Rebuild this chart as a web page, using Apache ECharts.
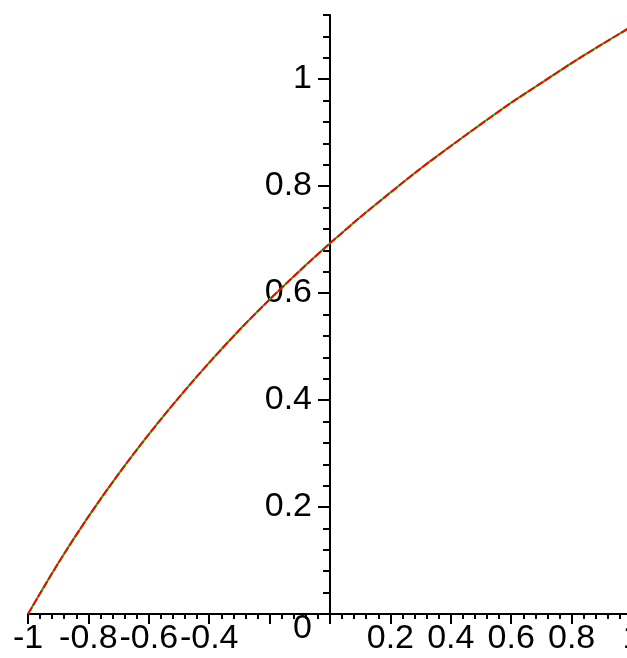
<!DOCTYPE html>
<html>
<head>
<meta charset="utf-8">
<script src="https://cdn.jsdelivr.net/npm/echarts@6/dist/echarts.min.js"></script>
<style>
  html, body { margin: 0; padding: 0; background: #fff; }
  #chart { width: 627px; height: 658px; }
</style>
</head>
<body>
<div id="chart"></div>
<script>
// values
const xValues = [-1, -0.9, -0.8, -0.7, -0.6, -0.5, -0.4, -0.3, -0.2, -0.1, 0,
  0.1, 0.2, 0.3, 0.4, 0.5, 0.6, 0.7, 0.8, 0.9, 1];
const greenValues = [0, 0.095, 0.182, 0.262, 0.336, 0.405, 0.470, 0.531, 0.588, 0.642, 0.693,
  0.742, 0.788, 0.833, 0.875, 0.916, 0.956, 0.993, 1.030, 1.065, 1.099];
const redValues = [0, 0.095, 0.182, 0.262, 0.336, 0.405, 0.470, 0.531, 0.588, 0.642, 0.693,
  0.742, 0.788, 0.833, 0.875, 0.916, 0.956, 0.993, 1.030, 1.065, 1.099];
const hiddenXLabels = [-0.2, 0];

const font = 'Liberation Sans, Arial, sans-serif';
const ink = '#000';

const chart = echarts.init(document.getElementById('chart'));

function fmt(v) {
  return String(Math.round(v * 10) / 10);
}

const option = {
  backgroundColor: '#fff',
  animation: false,
  grid: [
    { left: 28, right: -5, top: 15, bottom: 44, containLabel: false, outerBoundsMode: 'none' },
    { left: 28, right: -5, top: 79, bottom: 44, containLabel: false, outerBoundsMode: 'none' },
  ],
  xAxis: [
    {
      // major x ticks + labels
      type: 'value', gridIndex: 0, min: -1, max: 1, interval: 0.2,
      position: 'bottom',
      axisLine: { show: true, onZero: false, lineStyle: { color: ink, width: 2 } },
      axisTick: { show: true, inside: false, length: 10, lineStyle: { color: ink, width: 2 } },
      axisLabel: {
        show: true, margin: 8, color: ink, fontFamily: font, fontSize: 34,
        hideOverlap: false,
        formatter: (v) => hiddenXLabels.some((h) => Math.abs(h - v) < 1e-6) ? '' : fmt(v),
      },
      splitLine: { show: false },
    },
    {
      // minor x ticks
      type: 'value', gridIndex: 1, min: -1, max: 1, interval: 0.04,
      position: 'bottom',
      axisLine: { show: false, onZero: false },
      axisTick: { show: true, inside: false, length: 5, lineStyle: { color: ink, width: 2 } },
      axisLabel: { show: false },
      splitLine: { show: false },
    },
  ],
  yAxis: [
    {
      // minor y ticks + axis line
      type: 'value', gridIndex: 0, min: 0, max: 1.12, interval: 0.04,
      position: 'left',
      axisLine: { show: true, onZero: true, lineStyle: { color: ink, width: 2 } },
      axisTick: { show: true, inside: false, length: 7, lineStyle: { color: ink, width: 2 } },
      axisLabel: { show: false },
      splitLine: { show: false },
    },
    {
      // major y ticks + labels, shifted onto x = 0
      type: 'value', gridIndex: 1, min: 0, max: 1, interval: 0.2,
      position: 'left', offset: -302,
      axisLine: { show: false, onZero: false },
      axisTick: { show: true, inside: false, length: 12, lineStyle: { color: ink, width: 2 } },
      axisLabel: {
        show: true, margin: 18, color: ink, fontFamily: font, fontSize: 34,
        formatter: (v) => (v === 0 ? '{z|0}' : fmt(v)),
        rich: {
          z: { color: ink, fontFamily: font, fontSize: 34, padding: [30, 0, 0, 0] },
        },
      },
      splitLine: { show: false },
    },
  ],
  series: [
    {
      type: 'line', xAxisIndex: 0, yAxisIndex: 0,
      data: xValues.map((x, i) => [x, greenValues[i]]),
      smooth: 0.3, showSymbol: false,
      lineStyle: { color: '#00c800', width: 2 },
    },
    {
      type: 'line', xAxisIndex: 0, yAxisIndex: 0,
      data: xValues.map((x, i) => [x, redValues[i]]),
      smooth: 0.3, showSymbol: false,
      lineStyle: { color: '#ff0000', width: 2, type: [8, 2] },
    },
  ],
};

chart.setOption(option);
</script>
</body>
</html>
